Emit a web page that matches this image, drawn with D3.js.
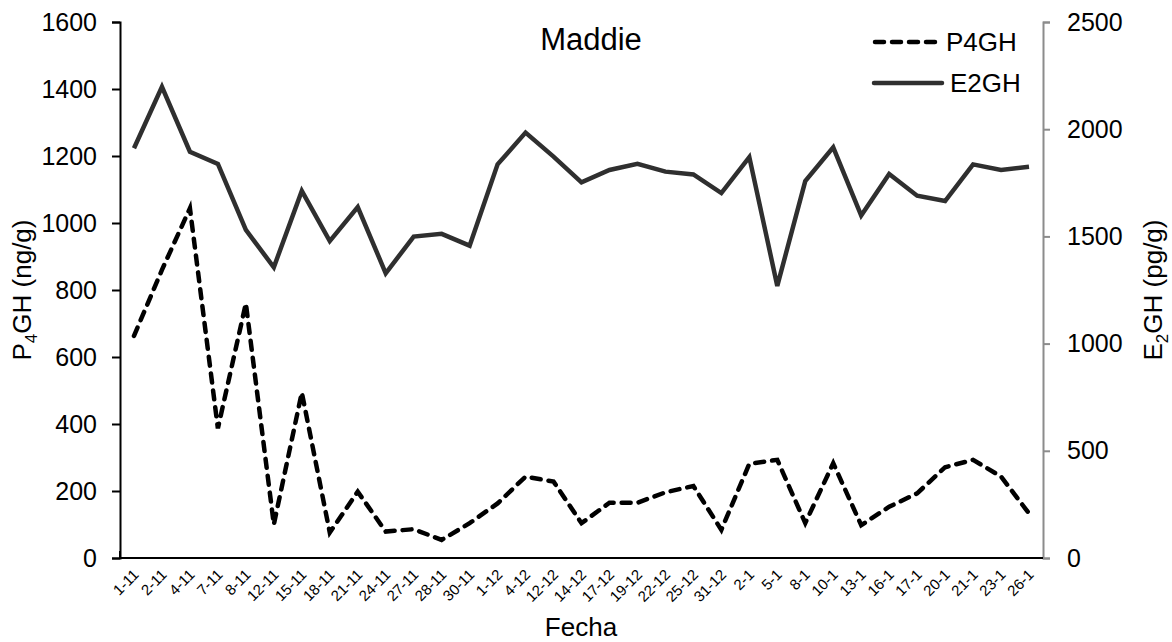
<!DOCTYPE html>
<html>
<head>
<meta charset="utf-8">
<script src="https://cdn.jsdelivr.net/npm/d3@7"></script>
<style>
  body { margin: 0; background: #fff; }
  svg { font-family: "Liberation Sans", Arial, sans-serif; }
</style>
</head>
<body>
<div id="chart"></div>
<script>
// data
var dates = ["1-11", "2-11", "4-11", "7-11", "8-11", "12-11", "15-11", "18-11", "21-11", "24-11",
  "27-11", "28-11", "30-11", "1-12", "4-12", "12-12", "14-12", "17-12", "19-12", "22-12",
  "25-12", "31-12", "2-1", "5-1", "8-1", "10-1", "13-1", "16-1", "17-1", "20-1",
  "21-1", "23-1", "26-1"];
var p4gh = [663, 860, 1044, 387, 760, 100, 494, 76, 198, 79,
  86, 54, 104, 163, 243, 228, 104, 165, 165, 196,
  215, 84, 281, 293, 104, 283, 98, 153, 193, 271,
  293, 243, 133];
var e2gh = [1911, 2198, 1895, 1838, 1530, 1356, 1712, 1478, 1637, 1328,
  1499, 1512, 1457, 1836, 1984, 1872, 1752, 1810, 1839, 1802,
  1789, 1702, 1870, 1269, 1758, 1915, 1597, 1791, 1690, 1665,
  1836, 1810, 1825];
var leftTicks = [0, 200, 400, 600, 800, 1000, 1200, 1400, 1600];
var rightTicks = [0, 500, 1000, 1500, 2000, 2500];

var svgWidth = 1172;
var svgHeight = 642;
var margin = { top: 22, right: 129, bottom: 84, left: 120 };
var width = svgWidth - margin.left - margin.right;
var height = svgHeight - margin.top - margin.bottom;

var svg = d3.select("#chart")
  .append("svg")
  .attr("width", svgWidth)
  .attr("height", svgHeight);

var chartGroup = svg.append("g")
  .attr("transform", `translate(${margin.left}, ${margin.top})`);

// scales
var xScale = d3.scalePoint()
  .domain(dates)
  .range([0, width])
  .padding(0.5);

var yLeft = d3.scaleLinear()
  .domain([0, 1600])
  .range([height, 0]);

var yRight = d3.scaleLinear()
  .domain([0, 2500])
  .range([height, 0]);

// axes
var leftAxis = d3.axisLeft(yLeft).tickValues(leftTicks).tickFormat(d3.format("d"))
  .tickSize(8).tickPadding(15);
var rightAxis = d3.axisRight(yRight).tickValues(rightTicks).tickFormat(d3.format("d"))
  .tickSize(7).tickPadding(17);

var gLeft = chartGroup.append("g").call(leftAxis);
gLeft.select(".domain").attr("stroke", "#000").attr("stroke-width", 2);
gLeft.selectAll(".tick line").attr("stroke", "#000").attr("stroke-width", 2);
gLeft.selectAll("text").attr("font-size", 25).attr("fill", "#000").attr("font-family", null);

var gRight = chartGroup.append("g")
  .attr("transform", `translate(${width}, 0)`)
  .call(rightAxis);
gRight.select(".domain").attr("stroke", "#8c8c8c").attr("stroke-width", 2);
gRight.selectAll(".tick line").attr("stroke", "#8c8c8c").attr("stroke-width", 2);
gRight.selectAll("text").attr("font-size", 25).attr("fill", "#000").attr("font-family", null);

// bottom axis: plain line plus rotated labels
chartGroup.append("line")
  .attr("x1", 0).attr("x2", width)
  .attr("y1", height).attr("y2", height)
  .attr("stroke", "#000")
  .attr("stroke-width", 2);

chartGroup.append("line")
  .attr("x1", 0).attr("x2", 0)
  .attr("y1", height).attr("y2", height - 7)
  .attr("stroke", "#000")
  .attr("stroke-width", 2);

chartGroup.selectAll(".xlabel")
  .data(dates)
  .enter()
  .append("text")
  .attr("class", "xlabel")
  .attr("text-anchor", "end")
  .attr("font-size", 15)
  .attr("transform", d => `translate(${xScale(d) + 2}, ${height + 14}) rotate(-45)`)
  .attr("dy", "0.35em")
  .text(d => d);

// lines
var lineLeft = d3.line()
  .x((d, i) => xScale(dates[i]))
  .y(d => yLeft(d));

var lineRight = d3.line()
  .x((d, i) => xScale(dates[i]))
  .y(d => yRight(d));

chartGroup.append("path")
  .datum(e2gh)
  .attr("d", lineRight)
  .attr("fill", "none")
  .attr("stroke", "#2f2f2f")
  .attr("stroke-width", 4.5)
  .attr("stroke-linejoin", "miter");

chartGroup.append("path")
  .datum(p4gh)
  .attr("d", lineLeft)
  .attr("fill", "none")
  .attr("stroke", "#000")
  .attr("stroke-width", 4.5)
  .attr("stroke-dasharray", "9,8")
  .attr("stroke-linecap", "round");

// title
svg.append("text")
  .attr("x", 591)
  .attr("y", 50)
  .attr("text-anchor", "middle")
  .attr("font-size", 31)
  .text("Maddie");

// legend
var legend = svg.append("g");
legend.append("line")
  .attr("x1", 875).attr("x2", 940)
  .attr("y1", 42).attr("y2", 42)
  .attr("stroke", "#000")
  .attr("stroke-width", 4.5)
  .attr("stroke-dasharray", "9,8")
  .attr("stroke-linecap", "round");
legend.append("text")
  .attr("x", 946).attr("y", 42)
  .attr("dy", "0.35em")
  .attr("font-size", 26)
  .text("P4GH");
legend.append("line")
  .attr("x1", 874).attr("x2", 942)
  .attr("y1", 83).attr("y2", 83)
  .attr("stroke", "#2f2f2f")
  .attr("stroke-width", 4.5)
  .attr("stroke-linecap", "round");
legend.append("text")
  .attr("x", 950).attr("y", 83)
  .attr("dy", "0.35em")
  .attr("font-size", 26)
  .text("E2GH");

// axis titles
var leftTitle = svg.append("text")
  .attr("transform", `translate(31, ${margin.top + height / 2}) rotate(-90)`)
  .attr("text-anchor", "middle")
  .attr("font-size", 26);
leftTitle.append("tspan").text("P");
leftTitle.append("tspan").attr("font-size", 17).attr("dy", 6).text("4");
leftTitle.append("tspan").attr("dy", -6).text("GH (ng/g)");

var rightTitle = svg.append("text")
  .attr("transform", `translate(1162, ${margin.top + height / 2}) rotate(-90)`)
  .attr("text-anchor", "middle")
  .attr("font-size", 26);
rightTitle.append("tspan").text("E");
rightTitle.append("tspan").attr("font-size", 17).attr("dy", 6).text("2");
rightTitle.append("tspan").attr("dy", -6).text("GH (pg/g)");

svg.append("text")
  .attr("x", 581)
  .attr("y", 636)
  .attr("text-anchor", "middle")
  .attr("font-size", 26)
  .text("Fecha");
</script>
</body>
</html>
